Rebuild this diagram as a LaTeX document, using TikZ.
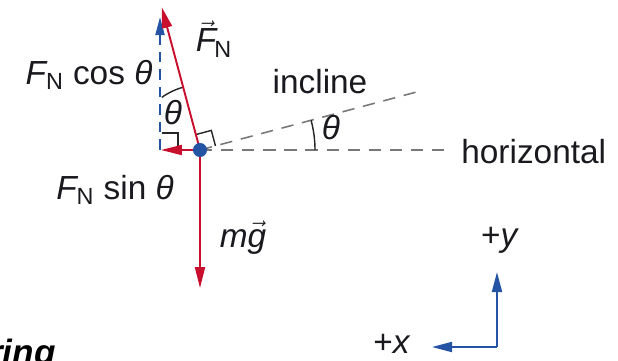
\documentclass[tikz,border=0pt]{standalone}
\usepackage{amsmath}
\usepackage{fontspec}
\setmainfont{Liberation Sans}
\usepackage{tikz}
\usetikzlibrary{arrows.meta, calc}
\definecolor{forcered}{RGB}{200, 16, 46}
\definecolor{axisblue}{RGB}{38, 84, 164}
\definecolor{guidegray}{RGB}{120, 120, 120}
\definecolor{labelink}{RGB}{25, 25, 30}
\newcommand{\FN}{{\itshape F}\textsubscript{N}}

\begin{document}
\begin{tikzpicture}[
    x=0.02cm, y=-0.02cm,
    tag/.style={
        inner sep=0pt,
        text=labelink,
        font=\fontsize{19}{22}\selectfont
    },
    force/.style={
        -{Triangle[length=0.42cm, width=0.2cm]},
        line width=1.1pt,
        draw=forcered
    },
    component/.style={
        -{Triangle[length=0.36cm, width=0.18cm]},
        line width=1.1pt,
        dash pattern=on 6pt off 4pt,
        draw=axisblue
    },
    axisarrow/.style={
        -{Triangle[length=0.4cm, width=0.2cm]},
        line width=1.1pt,
        draw=axisblue
    },
    guide/.style={
        line width=0.9pt,
        dash pattern=on 7pt off 5pt,
        draw=guidegray
    },
    anglemark/.style={
        line width=0.8pt,
        draw=black!85
    }
]
    \useasboundingbox (0,0) rectangle (618,360);

    % Point of contact and directions
    \coordinate (O) at (200,150);
    \coordinate (fntip) at ($(O)+(-105:148)$);
    \coordinate (inclend) at ($(O)+(-15:225)$);
    \coordinate (hzend) at (445,150);
    \coordinate (mgtip) at (200,288);
    \coordinate (corner) at (160,150);
    \coordinate (costip) at (160,17);
    \coordinate (sintip) at (161,150);

    % Guide lines
    \draw[guide] (O) -- (hzend);
    \draw[guide] (O) -- (inclend);

    % Angle and right-angle marks
    \draw[anglemark] ($(O)+(-105:16)$) -- ++(-15:16) -- ($(O)+(-15:16)$);
    \draw[anglemark] (162,133) -- (178,133) -- (178,150);
    \draw[anglemark] ($(O)+(-105:65)$) arc[start angle=-105, end angle=-126, radius=65];
    \draw[anglemark] ($(O)+(0:115)$) arc[start angle=0, end angle=-15, radius=115];

    % Components of the normal force
    \draw[component] (corner) -- (costip);
    \draw[force] (O) -- (sintip);

    % Forces
    \draw[force] (O) -- (fntip);
    \draw[force] (O) -- (mgtip);
    \node[circle, fill=axisblue, inner sep=0pt, minimum size=8pt] (dot) at (O) {};

    % Labels
    \node[tag] (fnlabel) at (214,39) {$\vec{\mbox{\itshape F}}$\kern-1pt\textsubscript{N}};
    \node[tag] (coslabel) at (89,75) {\FN\ cos \textit{θ}};
    \node[tag] (thetatop) at (173,113) {\textit{θ}};
    \node[tag] (incline) at (320,82) {incline};
    \node[tag] (thetaincl) at (331,128) {\textit{θ}};
    \node[tag, anchor=west] (horizontal) at (461,152) {horizontal};
    \node[tag] (sinlabel) at (115,190) {\FN\ sin \textit{θ}};
    \node[tag] (mglabel) at (243,238) {\textit{m}$\vec{\mbox{\itshape g}}$};

    % Coordinate axes
    \coordinate (axcorner) at (497,347);
    \coordinate (ytip) at (497,272);
    \coordinate (xtip) at (432,347);
    \draw[axisarrow] (axcorner) -- (ytip);
    \draw[axisarrow] (axcorner) -- (xtip);
    \node[tag] (ylabel) at (500,240) {+\textit{y}};
    \node[tag] (xlabel) at (392,344) {+\textit{x}};

    % Cut-off caption
    \node[tag, anchor=base east, text=black, font=\fontsize{20}{24}\selectfont\bfseries\itshape] (caption) at (56,364) {ring};
\end{tikzpicture}
\end{document}
